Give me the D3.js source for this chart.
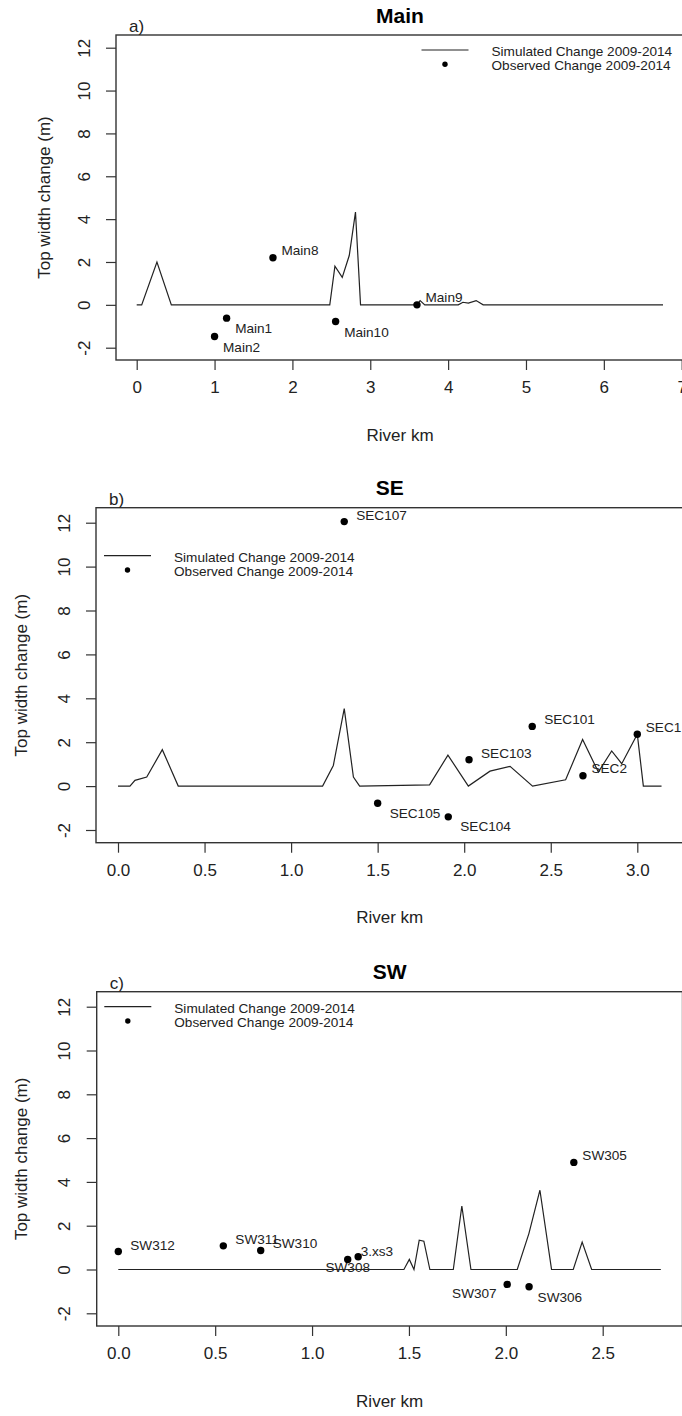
<!DOCTYPE html>
<html>
<head>
<meta charset="utf-8">
<script src="https://cdn.jsdelivr.net/npm/d3@7"></script>
<style>
  html, body { margin: 0; padding: 0; background: #fff; }
  svg { display: block; font-family: "Liberation Sans", Arial, sans-serif; }
</style>
</head>
<body>
<svg id="fig" width="682" height="1416"></svg>
<script>
// ---- shared ticks and legend text ----
const yTicks = [-2, 0, 2, 4, 6, 8, 10, 12];
const mainXTicks = [0, 1, 2, 3, 4, 5, 6, 7];
const seXTicks = [0, 0.5, 1, 1.5, 2, 2.5, 3];
const swXTicks = [0, 0.5, 1, 1.5, 2, 2.5];
const legendLabels = ["Simulated Change 2009-2014", "Observed Change 2009-2014"];

// ---- Main reach ----
const mainSimKm     = [0, 0.064, 0.26, 0.445, 2.48, 2.546, 2.64, 2.73, 2.81, 2.875, 3.60, 3.64, 3.70, 4.13, 4.19, 4.26, 4.36, 4.45, 6.76];
const mainSimChange = [0, 0, 2.0, 0, 0, 1.8, 1.28, 2.3, 4.33, 0, 0, 0.2, 0, 0, 0.12, 0.08, 0.2, 0, 0];
const mainObsKm     = [1.155, 1.0, 1.75, 2.555, 3.60];
const mainObsChange = [-0.62, -1.48, 2.2, -0.78, 0.0];
const mainObsLabels = ["Main1", "Main2", "Main8", "Main10", "Main9"];
const mainObsPlace  = ["senear", "senear", "nenear", "senear", "nenear"];

// ---- SE reach ----
const seSimKm     = [0, 0.069, 0.098, 0.166, 0.256, 0.348, 1.182, 1.244, 1.307, 1.36, 1.396, 1.80, 1.906, 2.024, 2.149, 2.265, 2.395, 2.586, 2.684, 2.775, 2.852, 2.91, 3.0, 3.035, 3.14];
const seSimChange = [0, 0, 0.26, 0.41, 1.66, 0, 0, 0.94, 3.53, 0.41, 0, 0.06, 1.41, 0, 0.68, 0.9, 0, 0.29, 2.12, 0.64, 1.6, 1.02, 2.36, 0, 0];
const seObsKm     = [1.307, 1.50, 1.908, 2.028, 2.393, 2.686, 3.0];
const seObsChange = [12.05, -0.78, -1.40, 1.2, 2.72, 0.47, 2.36];
const seObsLabels = ["SEC107", "SEC105", "SEC104", "SEC103", "SEC101", "SEC2", "SEC1"];
const seObsPlace  = ["ne", "se", "se", "ne", "ne", "nenear", "nenear"];

// ---- SW reach ----
const swSimKm     = [0, 1.474, 1.502, 1.526, 1.553, 1.577, 1.608, 1.729, 1.773, 1.82, 2.059, 2.119, 2.176, 2.236, 2.348, 2.394, 2.443, 2.8];
const swSimChange = [0, 0, 0.46, 0, 1.34, 1.29, 0, 0, 2.9, 0, 0, 1.64, 3.62, 0, 0, 1.25, 0, 0];
const swObsKm     = [0, 0.542, 0.735, 1.184, 1.238, 2.007, 2.12, 2.351];
const swObsChange = [0.82, 1.08, 0.87, 0.46, 0.58, -0.68, -0.79, 4.89];
const swObsLabels = ["SW312", "SW311", "SW310", "SW308", "3.xs3", "SW307", "SW306", "SW305"];
const swObsPlace  = ["ne", "ne", "ne", "s", "ntight", "sw", "senear", "nenear"];

// label placement relative to its point: offset of the text and its anchor
const placements = {
  ne:     { dx: 12,  dy: -6.5, anchor: "start" },
  nenear: { dx: 8.5, dy: -7,   anchor: "start" },
  se:     { dx: 12,  dy: 10,   anchor: "start" },
  senear: { dx: 8.5, dy: 10.5, anchor: "start" },
  ntight: { dx: 2.5, dy: -5,   anchor: "start" },
  s:      { dx: 0,   dy: 8,    anchor: "middle" },
  sw:     { dx: -10.5, dy: 9,  anchor: "end" }
};

const ink = "#222";
const svg = d3.select("#fig");

function drawPanel(p) {
  const g = svg.append("g");
  // scales pinned by two tick positions each
  const x = d3.scaleLinear().domain(p.xRef).range(p.xPix);
  const y = d3.scaleLinear().domain([-2, 12]).range(p.yPix);
  const left = p.box.left, top = p.box.top, bottom = p.box.bottom;
  const right = x(p.xRight);

  // plot frame
  g.append("rect")
    .attr("x", left).attr("y", top)
    .attr("width", right - left).attr("height", bottom - top)
    .attr("fill", "none").attr("stroke", "#333").attr("stroke-width", 1.4);

  // x axis
  const xAxis = d3.axisBottom(x).tickValues(p.xTicks)
    .tickSize(10).tickPadding(11).tickFormat(p.xFormat);
  const gx = g.append("g").attr("transform", `translate(0,${bottom})`).call(xAxis);
  gx.select(".domain").remove();
  gx.selectAll(".tick line").attr("stroke", "#333").attr("stroke-width", 1.2);
  gx.selectAll(".tick text").attr("fill", ink).attr("font-size", 17)
    .attr("font-family", "Liberation Sans, Arial, sans-serif");

  // y axis with labels parallel to the axis (plain hyphen for negatives)
  const yAxis = d3.axisLeft(y).tickValues(yTicks).tickSize(10).tickFormat(d => String(d));
  const gy = g.append("g").attr("transform", `translate(${left},0)`).call(yAxis);
  gy.select(".domain").remove();
  gy.selectAll(".tick line").attr("stroke", "#333").attr("stroke-width", 1.2);
  gy.selectAll(".tick text")
    .attr("x", null).attr("dy", null)
    .attr("text-anchor", "middle")
    .attr("dominant-baseline", "central")
    .attr("transform", "translate(-32,0) rotate(-90)")
    .attr("fill", ink).attr("font-size", 17)
    .attr("font-family", "Liberation Sans, Arial, sans-serif");

  // titles
  const cx = (left + right) / 2;
  g.append("text").attr("x", cx).attr("y", top - 20)
    .attr("text-anchor", "middle").attr("dominant-baseline", "central")
    .attr("font-size", 21).attr("font-weight", "bold").attr("fill", "#000")
    .text(p.title);
  g.append("text").attr("x", left + 13).attr("y", top - 8.5)
    .attr("dominant-baseline", "central")
    .attr("font-size", 17).attr("fill", ink).text(p.tag);
  g.append("text").attr("x", cx).attr("y", bottom + 75)
    .attr("text-anchor", "middle").attr("dominant-baseline", "central")
    .attr("font-size", 17).attr("fill", ink).text("River km");
  g.append("text")
    .attr("transform", `translate(${left - p.yTitleGap},${(top + bottom) / 2}) rotate(-90)`)
    .attr("text-anchor", "middle").attr("dominant-baseline", "central")
    .attr("font-size", 17).attr("fill", ink).text("Top width change (m)");

  // simulated change line
  const sim = p.simKm.map((k, i) => [k, p.simChange[i]]);
  g.append("path").datum(sim)
    .attr("d", d3.line().x(d => x(d[0])).y(d => y(d[1])))
    .attr("fill", "none").attr("stroke", ink).attr("stroke-width", 1.2)
    .attr("stroke-linejoin", "miter");

  // observed change points and their labels
  const obs = p.obsKm.map((k, i) => ({ k, v: p.obsChange[i], name: p.obsLabels[i], place: placements[p.obsPlace[i]] }));
  g.selectAll("circle.obs").data(obs).enter().append("circle")
    .attr("class", "obs")
    .attr("cx", d => x(d.k)).attr("cy", d => y(d.v)).attr("r", 3.7)
    .attr("fill", "#000");
  g.selectAll("text.obs").data(obs).enter().append("text")
    .attr("class", "obs")
    .attr("x", d => x(d.k) + d.place.dx).attr("y", d => y(d.v) + d.place.dy)
    .attr("text-anchor", d => d.place.anchor).attr("dominant-baseline", "central")
    .attr("font-size", 13.6).attr("fill", ink)
    .text(d => d.name);

  // legend
  const lg = g.append("g").attr("transform", `translate(${p.legend[0]},${p.legend[1]})`);
  lg.append("line").attr("x1", 0).attr("x2", 47).attr("y1", 0).attr("y2", 0)
    .attr("stroke", ink).attr("stroke-width", 1.2);
  lg.append("circle").attr("cx", 23.5).attr("cy", 14.3).attr("r", 2.7).attr("fill", "#000");
  lg.selectAll("text").data(legendLabels).enter().append("text")
    .attr("x", 70).attr("y", (d, i) => 1.6 + i * 14.3)
    .attr("dominant-baseline", "central")
    .attr("font-size", 13.6).attr("fill", ink)
    .text(d => d);
}

drawPanel({
  title: "Main", tag: "a)",
  box: { left: 116, top: 35, bottom: 360 },
  xRef: [0, 7], xPix: [136.7, 681.7], xRight: 7.03,
  yPix: [347.7, 47.7],
  xTicks: mainXTicks, xFormat: d3.format("d"),
  yTitleGap: 72,
  simKm: mainSimKm, simChange: mainSimChange,
  obsKm: mainObsKm, obsChange: mainObsChange, obsLabels: mainObsLabels, obsPlace: mainObsPlace,
  legend: [421.5, 50]
});

drawPanel({
  title: "SE", tag: "b)",
  box: { left: 96, top: 507.7, bottom: 842.7 },
  xRef: [0, 3], xPix: [118, 637.3], xRight: 3.266,
  yPix: [830, 522.7],
  xTicks: seXTicks, xFormat: d3.format(".1f"),
  yTitleGap: 75,
  simKm: seSimKm, simChange: seSimChange,
  obsKm: seObsKm, obsChange: seObsChange, obsLabels: seObsLabels, obsPlace: seObsPlace,
  legend: [104, 555.7]
});

drawPanel({
  title: "SW", tag: "c)",
  box: { left: 96.7, top: 991.7, bottom: 1326 },
  xRef: [0, 2.5], xPix: [118.3, 602.7], xRight: 2.912,
  yPix: [1313.3, 1006.7],
  xTicks: swXTicks, xFormat: d3.format(".1f"),
  yTitleGap: 75,
  simKm: swSimKm, simChange: swSimChange,
  obsKm: swObsKm, obsChange: swObsChange, obsLabels: swObsLabels, obsPlace: swObsPlace,
  legend: [104.3, 1006.7]
});
</script>
</body>
</html>
